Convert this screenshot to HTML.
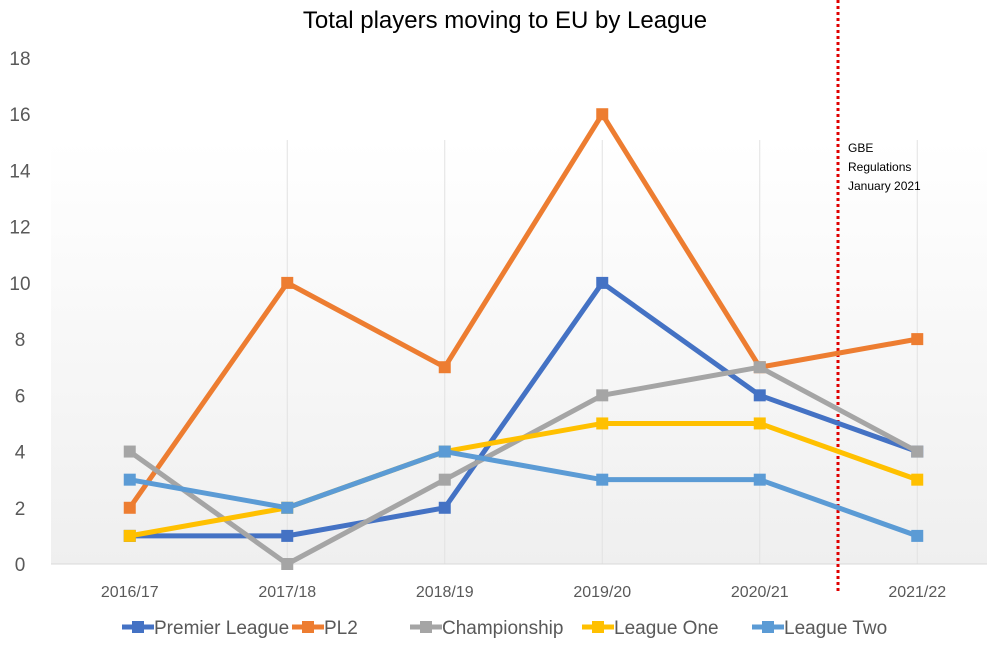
<!DOCTYPE html>
<html><head><meta charset="utf-8"><style>
html,body{margin:0;padding:0;background:#fff;}
svg text{font-family:"Liberation Sans",Arial,sans-serif;}
</style></head><body>
<svg id="chart" width="987" height="645" viewBox="0 0 987 645" xmlns="http://www.w3.org/2000/svg">
<defs>
<linearGradient id="bg" x1="0" y1="0" x2="0" y2="1">
<stop offset="0" stop-color="#ffffff"/><stop offset="1" stop-color="#efefef"/>
</linearGradient>
</defs>
<rect x="51" y="140" width="945" height="424" fill="url(#bg)"/>
<text x="505" y="28" text-anchor="middle" font-size="24" fill="#000">Total players moving to EU by League</text>
<g id="grid"></g>
<g id="yticks"></g>
<g id="xticks"></g>
<line x1="838" y1="0" x2="838" y2="592" stroke="#e00000" stroke-width="3" stroke-dasharray="3,3"/>
<text font-size="12" fill="#000"><tspan x="848" y="152">GBE</tspan><tspan x="848" y="171">Regulations</tspan><tspan x="848" y="190">January 2021</tspan></text>
<g id="series"></g>
<g id="legend"></g>
</svg>
<script>
const categories = ["2016/17","2017/18","2018/19","2019/20","2020/21","2021/22"];
const yTicks = [0,2,4,6,8,10,12,14,16,18];
const seriesNames = ["Premier League","PL2","Championship","League One","League Two"];
const premierLeague = [1,1,2,10,6,4];
const pl2 = [2,10,7,16,7,8];
const championship = [4,0,3,6,7,4];
const leagueOne = [1,2,4,5,5,3];
const leagueTwo = [3,2,4,3,3,1];
const seriesValues = [premierLeague, pl2, championship, leagueOne, leagueTwo];
const colors = ["#4472C4","#ED7D31","#A5A5A5","#FFC000","#5B9BD5"];
const NS = "http://www.w3.org/2000/svg";
const x0 = 51, x1 = 996, y0 = 564, yTop = 58;
const band = (x1 - x0) / categories.length;
function xs(i){ return x0 + band*(i+0.5); }
function ys(v){ return y0 - (v/18)*(y0 - yTop); }
function mk(tag, attrs, parent){ const e=document.createElementNS(NS,tag); for(const k in attrs) e.setAttribute(k,attrs[k]); parent.appendChild(e); return e; }
const grid=document.getElementById('grid'), yt=document.getElementById('yticks'), xt=document.getElementById('xticks');
categories.forEach((c,i)=>{
  if(i>0){ const l=mk('line',{x1:xs(i),x2:xs(i),y1:140,y2:y0,stroke:'#e2e2e2','stroke-width':1},grid);
    
     }
  const t=mk('text',{x:xs(i),y:597,'text-anchor':'middle','font-size':16,fill:'#595959'},xt);
  t.textContent=c;
  
  
});
const ax=mk('line',{x1:x0,x2:x1,y1:y0,y2:y0,stroke:'#d9d9d9','stroke-width':1},grid);


yTicks.forEach(v=>{
  const t=mk('text',{x:20,y:ys(v)+7,'text-anchor':'middle','font-size':19,fill:'#595959'},yt);
  t.textContent=v;
  
  
});
const sg=document.getElementById('series');
seriesValues.forEach((vals,s)=>{
  const g=mk('g',{},sg);
  
  
  const pts=vals.map((v,i)=>xs(i)+','+ys(v)).join(' ');
  const pl=mk('polyline',{points:pts,fill:'none',stroke:colors[s],'stroke-width':5,'stroke-linejoin':'round'},g);
  
  
  vals.forEach((v,i)=>{
    const r=mk('rect',{x:xs(i)-6,y:ys(v)-6,width:12,height:12,fill:colors[s]},g);
    
    
  });
});
const lg=document.getElementById('legend');
const legX=[122,292,410,582,752];
seriesNames.forEach((n,s)=>{
  const g=mk('g',{},lg);
  
  
  mk('line',{x1:legX[s],x2:legX[s]+32,y1:627,y2:627,stroke:colors[s],'stroke-width':5},g);
  mk('rect',{x:legX[s]+10,y:621,width:12,height:12,fill:colors[s]},g);
  const t=mk('text',{x:legX[s]+32,y:634,'font-size':19,fill:'#595959'},g);
  t.textContent=n;
  
  
});
</script>
</body></html>
